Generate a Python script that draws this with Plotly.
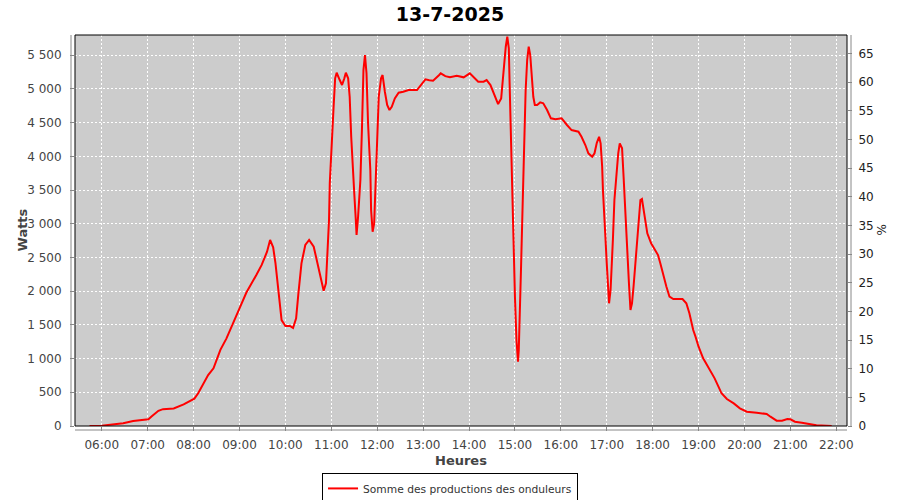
import plotly.graph_objects as go

DAY = "2025-07-13"
times = ["05:44","06:00","06:11","06:28","06:41","06:50","07:01","07:05","07:14","07:20","07:34","07:47","07:55",
         "08:01","08:06","08:14","08:19","08:26","08:35","08:43","08:52","09:01","09:09","09:16","09:22","09:29",
         "09:36","09:40","09:44","09:47","09:51","09:55","10:00","10:06","10:10","10:14","10:17","10:21","10:26",
         "10:31","10:37","10:41","10:45","10:50","10:53","10:55","10:57","10:58","11:00","11:03","11:05","11:07",
         "11:11","11:14","11:17","11:19","11:22","11:24","11:26","11:28","11:30","11:32","11:33","11:35","11:38",
         "11:40","11:42","11:44","11:46","11:48","11:51","11:52","11:54","11:56","11:58","12:00","12:02","12:05",
         "12:07","12:10","12:13","12:16","12:19","12:23","12:28","12:34","12:41","12:52","12:57","13:03","13:08",
         "13:13","13:21","13:23","13:29","13:35","13:44","13:53","14:01","14:06","14:12","14:19","14:23","14:28",
         "14:32","14:36","14:38","14:42","14:44","14:46","14:48","14:50","14:52","14:53","14:55","14:57","14:58",
         "15:00","15:02","15:04","15:05","15:07","15:08","15:10","15:12","15:14","15:16","15:18","15:20","15:22",
         "15:24","15:26","15:29","15:33","15:37","15:42","15:47","15:53","16:01","16:08","16:14","16:23","16:27",
         "16:32","16:36","16:41","16:44","16:47","16:50","16:52","16:54","16:55","16:56","16:58","17:00","17:02",
         "17:03","17:05","17:06","17:08","17:10","17:13","17:15","17:17","17:20","17:22","17:24","17:27","17:29",
         "17:31","17:33","17:35","17:37","17:40","17:42","17:44","17:46","17:48","17:50","17:53","17:58","18:02",
         "18:07","18:10","18:14","18:18","18:22","18:27","18:39","18:44","18:48","18:53","18:56","19:00","19:06",
         "19:11","19:15","19:21","19:26","19:30","19:37","19:46","19:54","20:03","20:16","20:29","20:34","20:42",
         "20:49","20:56","21:00","21:06","21:15","21:26","21:34","21:54"]
watts = [0,5,20,40,75,90,100,140,225,250,260,320,375,
         405,485,660,755,855,1130,1300,1525,1770,1980,2115,2240,2390,
         2585,2760,2650,2415,1995,1570,1483,1483,1453,1597,1968,2413,2685,
         2760,2660,2462,2215,2007,2117,2560,3055,3600,4143,4736,5157,5240,
         5132,5058,5157,5240,5157,4884,4291,3748,3451,3056,2833,3105,3649,
         4390,5280,5503,5231,4490,3797,3204,2882,3006,3649,4390,4884,5157,
         5206,4958,4761,4687,4736,4860,4944,4958,4984,4984,5058,5142,5130,
         5122,5206,5231,5190,5172,5196,5172,5231,5181,5107,5107,5132,5058,
         4935,4810,4776,4860,5132,5380,5626,5774,5602,5100,4193,3105,2512,
         1918,1276,954,1127,1770,2363,3253,4390,4984,5429,5626,5503,5181,
         4884,4761,4761,4800,4786,4687,4564,4549,4564,4465,4390,4366,4291,
         4168,4045,3995,4045,4200,4291,4193,3846,3500,3204,2858,2413,2066,
         1820,2017,2363,2759,3352,3797,4045,4193,4119,3698,3204,2610,2117,
         1721,1820,2066,2363,2759,3105,3352,3367,3204,3056,2858,2710,2636,
         2536,2413,2215,2066,1918,1884,1884,1820,1672,1424,1325,1176,1004,
         905,805,707,583,485,400,336,262,212,198,178,138,79,
         79,104,99,64,49,25,10,0]

series_name = "Somme des productions des onduleurs"
title_text = "13-7-2025"
x_title = "Heures"
y_title = "Watts"
y2_title = "%"
watt_range = [0, 5800]
pct_range = [0, 68.2]
x_range = [DAY + " 05:25", DAY + " 22:14"]

xs = [DAY + " " + t for t in times]

fig = go.Figure()
fig.add_trace(go.Scatter(x=xs, y=watts, mode="lines", name=series_name,
                         line=dict(color="#FF0000", width=2)))
fig.add_trace(go.Scatter(x=[xs[0]], y=[None], yaxis="y2", showlegend=False, hoverinfo="skip"))

tickfont = dict(family="DejaVu Sans", size=12, color="#444444")
fig.update_layout(
    width=900, height=500,
    margin=dict(l=75, r=53, t=35, b=74, autoexpand=False),
    paper_bgcolor="white", plot_bgcolor="#CCCCCC",
    separators=", ",
    title=dict(text="<b>" + title_text + "</b>", x=0.5, xanchor="center", y=0.972, yanchor="middle",
               font=dict(family="DejaVu Sans", size=19, color="black")),
    xaxis=dict(type="date", range=x_range, dtick=3600000, tickformat="%H:%M",
               tick0=DAY + " 00:00", automargin=False,
               showgrid=True, gridcolor="white", griddash="2px,2px", gridwidth=1,
               ticks="outside", ticklen=4, tickcolor="#888888", ticklabelstandoff=4,
               tickfont=tickfont, showline=False, zeroline=False),
    yaxis=dict(range=watt_range, dtick=500, tickformat=",.0f", automargin=False,
               showgrid=True, gridcolor="white", griddash="2px,2px", gridwidth=1,
               ticks="outside", ticklen=4, tickcolor="#888888", ticklabelstandoff=6,
               tickfont=tickfont, showline=False, zeroline=False),
    yaxis2=dict(range=pct_range, dtick=5, overlaying="y", side="right", automargin=False,
                showgrid=False, zeroline=False, showline=False,
                ticks="outside", ticklen=4, tickcolor="#888888", ticklabelstandoff=4,
                tickfont=dict(family="DejaVu Sans", size=12, color="#222222")),
    annotations=[
        dict(text="<b>" + x_title + "</b>", xref="paper", yref="paper", x=0.5, y=0,
             xanchor="center", yanchor="middle", yshift=-34, showarrow=False,
             font=dict(family="DejaVu Sans", size=13, color="#444444")),
        dict(text="<b>" + y_title + "</b>", xref="paper", yref="paper", x=0, y=0.5,
             xanchor="center", yanchor="middle", xshift=-53, textangle=-90, showarrow=False,
             font=dict(family="DejaVu Sans", size=13, color="#444444")),
        dict(text=y2_title, xref="paper", yref="paper", x=1, y=0.5,
             xanchor="center", yanchor="middle", xshift=34, textangle=-90, showarrow=False,
             font=dict(family="DejaVu Sans", size=12, color="#222222")),
    ],
    legend=dict(orientation="h", x=0.4858, xanchor="center", y=-0.12, yanchor="top",
                bgcolor="white", bordercolor="black", borderwidth=1, itemwidth=30,
                font=dict(family="DejaVu Sans", size=10.7, color="#333333")),
    shapes=[
        dict(type="rect", xref="paper", yref="paper", x0=0, x1=1, y0=0, y1=1,
             line=dict(color="black", width=1), layer="above"),
        dict(type="line", xref="paper", yref="paper", xsizemode="pixel", xanchor=0,
             x0=-4, x1=-4, y0=0, y1=1, line=dict(color="#888888", width=1)),
        dict(type="line", xref="paper", yref="paper", xsizemode="pixel", xanchor=1,
             x0=4, x1=4, y0=0, y1=1, line=dict(color="#888888", width=1)),
        dict(type="line", xref="paper", yref="paper", ysizemode="pixel", yanchor=0,
             y0=-4, y1=-4, x0=0, x1=1, line=dict(color="#888888", width=1)),
    ],
)

fig.write_html("out.html", config={"displayModeBar": False},
               post_script="document.body.style.margin='0';document.body.style.overflow='hidden';")
